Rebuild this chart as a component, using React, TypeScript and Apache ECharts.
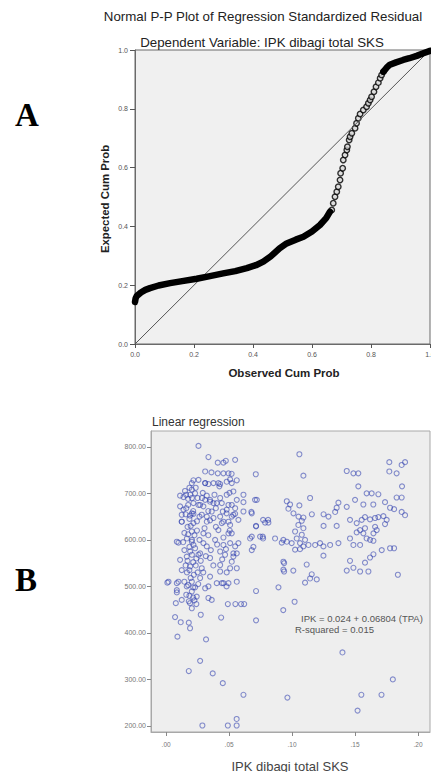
import React, { useEffect, useRef } from "react";
import * as echarts from "echarts";

// ---------- Panel A: Normal P-P plot ----------
const ppTicks = [0, 0.2, 0.4, 0.6, 0.8, 1.0];
const diagonal: [number, number][] = [
  [0, 0],
  [1, 1],
];
// observed cum prob, expected cum prob (dense lower band)
const ppBandLow: [number, number][] = [
  [0.0, 0.143], [0.002, 0.155], [0.006, 0.163], [0.02, 0.175], [0.035, 0.184],
  [0.051, 0.19], [0.08, 0.199], [0.119, 0.207], [0.16, 0.214], [0.209, 0.222],
  [0.25, 0.23], [0.299, 0.24], [0.34, 0.248], [0.379, 0.258], [0.41, 0.268],
  [0.435, 0.28], [0.46, 0.298], [0.49, 0.325], [0.514, 0.342], [0.545, 0.355],
  [0.571, 0.365], [0.6, 0.383], [0.627, 0.405], [0.648, 0.428], [0.661, 0.45],
];
// steep middle part, where single circles are visible
const ppSteep: [number, number][] = [
  [0.667, 0.456], [0.672, 0.479], [0.678, 0.501], [0.684, 0.518], [0.689, 0.535],
  [0.695, 0.558], [0.697, 0.581], [0.704, 0.598], [0.706, 0.626], [0.712, 0.643],
  [0.718, 0.66], [0.72, 0.671], [0.726, 0.694], [0.729, 0.705], [0.735, 0.717],
  [0.746, 0.734], [0.751, 0.751], [0.757, 0.768], [0.763, 0.782], [0.774, 0.796],
  [0.785, 0.807], [0.791, 0.819], [0.797, 0.83], [0.802, 0.841], [0.81, 0.858],
  [0.817, 0.875], [0.825, 0.889], [0.831, 0.904], [0.836, 0.915], [0.842, 0.926],
];
// dense upper band
const ppBandHigh: [number, number][] = [
  [0.842, 0.926], [0.853, 0.94], [0.864, 0.95], [0.885, 0.958], [0.909, 0.966],
  [0.93, 0.972], [0.955, 0.98], [0.975, 0.988], [1.0, 0.997],
];

// ---------- Panel B: Linear regression scatter ----------
const ipkTicks = [0, 0.05, 0.1, 0.15, 0.2];
const tpaTicks = [200, 300, 400, 500, 600, 700, 800];
// [IPK dibagi total SKS, TPA]
const regressionPoints: [number, number][] = [
  [0.0257, 802], [0.0336, 778], [0.1058, 784], [0.0712, 741], [0.109, 738],
  [0.001, 508], [0.0071, 434], [0.009, 392], [0.0116, 423], [0.018, 422], [0.019, 410],
  [0.0275, 439], [0.0317, 386], [0.027, 340], [0.018, 318], [0.037, 313], [0.045, 292],
  [0.0614, 267], [0.0288, 201], [0.049, 201], [0.056, 201], [0.056, 215], [0.0963, 261],
  [0.14, 358], [0.152, 233], [0.155, 267], [0.171, 267], [0.18, 300], [0.184, 525],
  [0.0714, 427], [0.0437, 433], [0.093, 449], [0.102, 467], [0.055, 462], [0.049, 462],
  [0.0595, 462], [0.062, 462],
  [0.1434, 748], [0.1487, 743], [0.1526, 743], [0.1772, 767], [0.187, 761], [0.1897, 767],
  [0.1772, 747], [0.183, 743], [0.1526, 715], [0.1873, 715], [0.1592, 700], [0.1632, 700],
  [0.1685, 698], [0.1143, 690], [0.183, 691], [0.187, 691], [0.0958, 683], [0.0984, 676],
  [0.1058, 674], [0.1368, 680], [0.1354, 669], [0.1434, 671], [0.15, 686], [0.1566, 676],
  [0.1645, 676], [0.1738, 681], [0.1778, 669], [0.181, 666], [0.187, 660], [0.1897, 653],
  [0.072, 686], [0.0677, 660], [0.077, 643], [0.081, 643], [0.0714, 630], [0.0971, 667],
  [0.1011, 657], [0.1051, 650], [0.109, 648], [0.1077, 641], [0.1157, 655], [0.125, 655],
  [0.1289, 650], [0.1342, 660], [0.125, 630], [0.1354, 630],
  [0.146, 643], [0.1513, 636], [0.1553, 643], [0.1579, 649], [0.1619, 644], [0.1659, 647],
  [0.1685, 649], [0.1725, 651], [0.1751, 643], [0.1738, 634], [0.1659, 628], [0.1579, 625],
  [0.154, 621], [0.1513, 616], [0.1566, 614], [0.1646, 614], [0.1672, 621], [0.1619, 600],
  [0.1646, 598], [0.1592, 603], [0.146, 603], [0.1487, 589], [0.154, 589], [0.1712, 578],
  [0.1778, 582], [0.181, 582],
  [0.0931, 600], [0.0997, 593], [0.1037, 603], [0.1063, 593], [0.1103, 600], [0.1077, 611],
  [0.1024, 618], [0.109, 625], [0.105, 632], [0.1024, 579], [0.1063, 580], [0.109, 586],
  [0.113, 589], [0.1183, 589], [0.1222, 593], [0.1249, 586], [0.1302, 589], [0.1368, 593],
  [0.1249, 566],
  [0.0931, 553], [0.0931, 536], [0.101, 534], [0.1116, 547], [0.1156, 526], [0.1196, 515],
  [0.1103, 508], [0.1143, 517], [0.1434, 534], [0.1487, 540], [0.154, 532], [0.1606, 532],
  [0.1579, 551], [0.1619, 562], [0.1646, 569], [0.146, 555],
  [0.0667, 603], [0.0693, 585], [0.077, 603], [0.0865, 603], [0.0892, 498],
  [0.041, 766], [0.0455, 766], [0.0474, 770], [0.0548, 772], [0.031, 747], [0.036, 745],
  [0.041, 743], [0.0455, 743], [0.0495, 743], [0.052, 742], [0.0217, 728], [0.0257, 729],
  [0.031, 722], [0.0336, 720], [0.0376, 722], [0.0415, 722], [0.0481, 725], [0.0508, 730],
  [0.0561, 728], [0.0423, 715], [0.0204, 708], [0.023, 700], [0.0111, 695], [0.0138, 692],
  [0.0159, 697], [0.0323, 695], [0.031, 686], [0.0349, 686], [0.0429, 690], [0.0481, 697],
  [0.0534, 704], [0.0561, 686], [0.0614, 697], [0.0548, 668], [0.0376, 679], [0.0402, 679],
  [0.045, 661], [0.0481, 665], [0.0495, 675], [0.0257, 675], [0.0296, 672], [0.0111, 672],
  [0.0138, 665], [0.0124, 654], [0.019, 652], [0.0217, 656], [0.0323, 650], [0.0349, 642],
  [0.0376, 647], [0.0429, 650], [0.0455, 639], [0.0495, 639], [0.0521, 650], [0.0548, 656],
  [0.0574, 643], [0.068, 657], [0.0706, 686], [0.0786, 637], [0.0812, 637], [0.0714, 629],
  [0.0614, 681], [0.0614, 661],
  [0.0204, 722], [0.031, 722], [0.0429, 720], [0.0521, 722],
  [0.0191, 697], [0.0291, 701], [0.0384, 697], [0.0503, 701],
  [0.0217, 679], [0.027, 675], [0.0349, 682], [0.0442, 679], [0.0521, 675],
  [0.0204, 657], [0.0283, 654], [0.0362, 661], [0.048, 657], [0.0534, 654],
  [0.0124, 639], [0.0217, 636], [0.0323, 639], [0.0442, 636], [0.0508, 632],
  [0.0204, 618], [0.0296, 614], [0.0415, 621], [0.0495, 614],
  [0.0085, 596], [0.0204, 596], [0.0296, 593], [0.0389, 600], [0.0508, 593],
  [0.0191, 575], [0.027, 571], [0.0429, 575], [0.0534, 571],
  [0.0217, 589], [0.0323, 586], [0.0455, 589], [0.0548, 586],
  [0.0164, 564], [0.0257, 568], [0.0349, 561], [0.0468, 568], [0.0534, 564],
  [0.0191, 543], [0.0283, 539], [0.0429, 546], [0.0508, 539],
  [0.0019, 510], [0.0098, 510], [0.0204, 510], [0.027, 518], [0.0349, 521], [0.0455, 507],
  [0.0561, 510], [0.0085, 492], [0.0204, 489], [0.031, 496], [0.048, 500],
  [0.015, 705], [0.0175, 688], [0.016, 668], [0.0185, 645], [0.017, 628], [0.0225, 610],
  [0.0165, 603], [0.023, 582], [0.017, 555], [0.0215, 552], [0.0165, 530], [0.022, 525],
  [0.0175, 503], [0.023, 498], [0.016, 482], [0.0215, 476], [0.018, 468], [0.024, 462],
  [0.0145, 615], [0.0245, 640], [0.025, 690], [0.024, 560], [0.0145, 578], [0.025, 530],
  [0.0085, 487], [0.0164, 500], [0.0124, 471], [0.019, 464], [0.0204, 453], [0.0243, 478],
  [0.0336, 475], [0.0362, 471], [0.0402, 507], [0.0442, 507], [0.0336, 500], [0.0085, 507],
  [0.0077, 464],
  [0.0521, 614], [0.0574, 593], [0.0561, 571], [0.0521, 553], [0.0481, 530], [0.0561, 539],
  [0.0429, 532], [0.0495, 507], [0.0098, 594], [0.0111, 557], [0.0124, 535], [0.0124, 639],
  [0.068, 607], [0.0746, 607], [0.0767, 607], [0.0918, 594], [0.0958, 596], [0.068, 578],
  [0.0714, 490], [0.0937, 550], [0.0937, 532],
  [0.0185, 712], [0.0205, 690], [0.0175, 675], [0.0215, 662], [0.0195, 630], [0.0175, 612],
  [0.0205, 600], [0.0185, 585], [0.0205, 568], [0.0185, 535], [0.0195, 518], [0.0215, 498],
  [0.0185, 480], [0.0225, 470], [0.0235, 545], [0.0245, 620], [0.0265, 650], [0.0265, 600],
  [0.0275, 555], [0.0255, 505], [0.0155, 655], [0.0155, 545], [0.0145, 510], [0.0135, 595],
  [0.0305, 625], [0.0315, 565], [0.0295, 530], [0.0335, 610], [0.0355, 578], [0.0375, 545],
  [0.0395, 628], [0.0405, 590], [0.0455, 605], [0.0445, 558], [0.0475, 580], [0.0505, 620],
  [0.0395, 668], [0.0335, 662], [0.0285, 690], [0.0235, 712],
];

const SANS = "'Liberation Sans', Arial, sans-serif";

export default function App() {
  const ref = useRef<HTMLDivElement>(null);

  useEffect(() => {
    if (!ref.current) return;
    const chart = echarts.init(ref.current, null, { renderer: "svg" });

    const txt = (
      text: string,
      x: number,
      y: number,
      font: string,
      fill: string,
      align: string = "center",
      rotation = 0
    ) => ({
      type: "text",
      x,
      y,
      rotation,
      silent: true,
      z: 100,
      style: { text, font, fill, align, verticalAlign: "middle" },
    });

    chart.setOption({
      animation: false,
      backgroundColor: "#ffffff",
      grid: [
        {
          left: 135,
          top: 50,
          width: 295,
          height: 294,
          show: true,
          containLabel: false,
          outerBoundsMode: "none",
          backgroundColor: "#f0f0f0",
          borderColor: "#6a6a6a",
          borderWidth: 1,
        },
        {
          left: 151,
          top: 431,
          width: 279,
          height: 301,
          show: true,
          containLabel: false,
          outerBoundsMode: "none",
          backgroundColor: "#eeeeee",
          borderColor: "#a8a8a8",
          borderWidth: 1,
        },
      ],
      xAxis: [
        {
          type: "value",
          gridIndex: 0,
          min: 0,
          max: 1,
          interval: 0.2,
          axisLine: { show: true, onZero: false, lineStyle: { color: "#6a6a6a" } },
          axisTick: { show: true, length: 4, lineStyle: { color: "#555" } },
          axisLabel: {
            fontSize: 7,
            color: "#555",
            margin: 7,
            fontFamily: SANS,
            formatter: (v: number) => v.toFixed(1),
            customValues: ppTicks,
          },
          splitLine: { show: false },
        },
        {
          type: "value",
          gridIndex: 1,
          min: -0.012,
          max: 0.2095,
          axisLine: { show: true, onZero: false, lineStyle: { color: "#a8a8a8" } },
          axisTick: {
            show: true,
            length: 4,
            customValues: ipkTicks,
            lineStyle: { color: "#888" },
          },
          axisLabel: {
            fontSize: 6.5,
            color: "#777",
            margin: 9,
            fontFamily: SANS,
            customValues: ipkTicks,
            formatter: (v: number) => v.toFixed(2).replace(/^0/, ""),
          },
          splitLine: { show: false },
        },
      ],
      yAxis: [
        {
          type: "value",
          gridIndex: 0,
          min: 0,
          max: 1,
          interval: 0.2,
          axisLine: { show: true, onZero: false, lineStyle: { color: "#6a6a6a" } },
          axisTick: { show: true, length: 5, lineStyle: { color: "#555" } },
          axisLabel: {
            fontSize: 7,
            color: "#555",
            margin: 7,
            fontFamily: SANS,
            formatter: (v: number) => v.toFixed(1),
            customValues: ppTicks,
          },
          splitLine: { show: false },
        },
        {
          type: "value",
          gridIndex: 1,
          min: 187,
          max: 834,
          axisLine: { show: true, onZero: false, lineStyle: { color: "#a8a8a8" } },
          axisTick: {
            show: true,
            length: 4,
            customValues: tpaTicks,
            lineStyle: { color: "#888" },
          },
          axisLabel: {
            fontSize: 7,
            color: "#777",
            margin: 5,
            fontFamily: SANS,
            customValues: tpaTicks,
            formatter: (v: number) => v.toFixed(2),
          },
          splitLine: { show: false },
        },
      ],
      series: [
        {
          type: "line",
          xAxisIndex: 0,
          yAxisIndex: 0,
          data: diagonal,
          symbol: "none",
          lineStyle: { color: "#555", width: 1 },
          silent: true,
        },
        {
          type: "line",
          xAxisIndex: 0,
          yAxisIndex: 0,
          data: ppBandLow,
          symbol: "none",
          lineStyle: { color: "#000", width: 6.5, cap: "round", join: "round" },
          silent: true,
        },
        {
          type: "line",
          xAxisIndex: 0,
          yAxisIndex: 0,
          data: ppBandHigh,
          symbol: "none",
          lineStyle: { color: "#000", width: 6.5, cap: "round", join: "round" },
          silent: true,
        },
        {
          type: "scatter",
          xAxisIndex: 0,
          yAxisIndex: 0,
          data: ppSteep,
          symbol: "circle",
          symbolSize: 5.5,
          itemStyle: { color: "#d8d8d8", borderColor: "#000", borderWidth: 1.4 },
          silent: true,
        },
        {
          type: "scatter",
          xAxisIndex: 1,
          yAxisIndex: 1,
          data: regressionPoints,
          symbol: "circle",
          symbolSize: 5,
          itemStyle: {
            color: "rgba(0,0,0,0)",
            borderColor: "rgba(48,64,175,0.72)",
            borderWidth: 1.1,
          },
          silent: true,
        },
      ],
      graphic: [
        txt("A", 15, 115, "bold 33px 'Liberation Serif', 'Times New Roman', serif", "#000", "left"),
        txt("B", 15, 580, "bold 33px 'Liberation Serif', 'Times New Roman', serif", "#000", "left"),
        txt("Normal P-P Plot of Regression Standardized Residual", 263, 16, `13.3px ${SANS}`, "#222"),
        txt("Dependent Variable: IPK dibagi total SKS", 262, 42, `13.3px ${SANS}`, "#222"),
        txt("Expected Cum Prob", 105, 199, `bold 11.4px ${SANS}`, "#222", "center", Math.PI / 2),
        txt("Observed Cum Prob", 284, 373, `bold 11.5px ${SANS}`, "#222"),
        txt("Linear regression", 152, 422, `12px ${SANS}`, "#333", "left"),
        txt("IPK = 0.024 + 0.06804 (TPA)", 301, 618, `9.5px ${SANS}`, "#555", "left"),
        txt("R-squared = 0.015", 295, 629, `9.5px ${SANS}`, "#555", "left"),
        txt("IPK dibagi total SKS", 290, 766, `13px ${SANS}`, "#444"),
      ],
    });

    return () => chart.dispose();
  }, []);

  return (
    <div
      ref={ref}
      style={{ position: "fixed", left: 0, top: 0, width: 431, height: 772 }}
    />
  );
}
